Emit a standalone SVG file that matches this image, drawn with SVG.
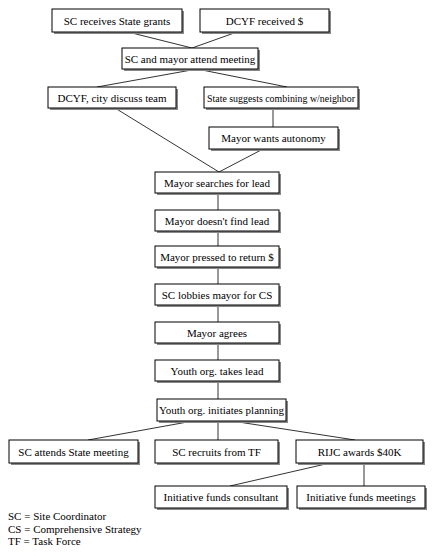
<svg xmlns="http://www.w3.org/2000/svg" width="434" height="556" viewBox="0 0 434 556">
<style>
.nd rect{fill:#fff;stroke:#000;stroke-width:1}
.nd rect.sh{fill:#888;stroke:none}
text{font-family:"Liberation Serif","Times New Roman",serif;font-size:11px;fill:#000}
.c{text-anchor:middle}
#connectors line{stroke:#333;stroke-width:1}
</style>
<rect width="434" height="556" fill="#fff"/>
<g id="connectors">
<line x1="128" y1="32" x2="192" y2="48"/>
<line x1="237" y1="32" x2="192" y2="48"/>
<line x1="197" y1="69" x2="97" y2="87"/>
<line x1="197" y1="69" x2="287" y2="87"/>
<line x1="273" y1="108" x2="273" y2="127"/>
<line x1="115" y1="108" x2="219" y2="172"/>
<line x1="263" y1="149" x2="219" y2="172"/>
<line x1="218" y1="193" x2="218" y2="210"/>
<line x1="218" y1="231" x2="218" y2="246"/>
<line x1="218" y1="267" x2="218" y2="284"/>
<line x1="218" y1="305" x2="218" y2="322"/>
<line x1="218" y1="343" x2="218" y2="360"/>
<line x1="218" y1="381" x2="218" y2="399"/>
<line x1="193" y1="421" x2="88" y2="440"/>
<line x1="218" y1="421" x2="218" y2="440"/>
<line x1="232" y1="421" x2="355" y2="440"/>
<line x1="330" y1="463" x2="230" y2="486"/>
<line x1="364" y1="463" x2="364" y2="486"/>
</g>
<g id="n1" class="nd"><rect class="sh" x="54" y="11" width="130" height="23"/><rect x="52" y="9" width="130" height="23"/><text class="c" x="117" y="24.5">SC receives State grants</text></g>
<g id="n2" class="nd"><rect class="sh" x="202" y="11" width="129" height="23"/><rect x="200" y="9" width="129" height="23"/><text class="c" x="264.5" y="24.5">DCYF received $</text></g>
<g id="n3" class="nd"><rect class="sh" x="124" y="50" width="136" height="21"/><rect x="122" y="48" width="136" height="21"/><text class="c" x="190" y="62.5">SC and mayor attend meeting</text></g>
<g id="n4" class="nd"><rect class="sh" x="50" y="89" width="128" height="21"/><rect x="48" y="87" width="128" height="21"/><text class="c" x="112" y="101.5">DCYF, city discuss team</text></g>
<g id="n5" class="nd"><rect class="sh" x="206" y="89" width="154" height="21"/><rect x="204" y="87" width="154" height="21"/><text class="c" x="281" y="101.5" textLength="148" lengthAdjust="spacingAndGlyphs">State suggests combining w/neighbor</text></g>
<g id="n6" class="nd"><rect class="sh" x="211" y="129" width="129" height="22"/><rect x="209" y="127" width="129" height="22"/><text class="c" x="273.5" y="142">Mayor wants autonomy</text></g>
<g id="n7" class="nd"><rect class="sh" x="157" y="174" width="124" height="21"/><rect x="155" y="172" width="124" height="21"/><text class="c" x="217" y="186.5">Mayor searches for lead</text></g>
<g id="n8" class="nd"><rect class="sh" x="157" y="212" width="124" height="21"/><rect x="155" y="210" width="124" height="21"/><text class="c" x="217" y="224.5">Mayor doesn't find lead</text></g>
<g id="n9" class="nd"><rect class="sh" x="157" y="248" width="124" height="21"/><rect x="155" y="246" width="124" height="21"/><text class="c" x="217" y="260.5">Mayor pressed to return $</text></g>
<g id="n10" class="nd"><rect class="sh" x="157" y="286" width="124" height="21"/><rect x="155" y="284" width="124" height="21"/><text class="c" x="217" y="298.5">SC lobbies mayor for CS</text></g>
<g id="n11" class="nd"><rect class="sh" x="157" y="324" width="124" height="21"/><rect x="155" y="322" width="124" height="21"/><text class="c" x="217" y="336.5">Mayor agrees</text></g>
<g id="n12" class="nd"><rect class="sh" x="157" y="362" width="124" height="21"/><rect x="155" y="360" width="124" height="21"/><text class="c" x="217" y="374.5">Youth org. takes lead</text></g>
<g id="n13" class="nd"><rect class="sh" x="159" y="401" width="129" height="22"/><rect x="157" y="399" width="129" height="22"/><text class="c" x="221.5" y="414">Youth org. initiates planning</text></g>
<g id="n14" class="nd"><rect class="sh" x="11" y="442" width="129" height="23"/><rect x="9" y="440" width="129" height="23"/><text class="c" x="73.5" y="455.5">SC attends State meeting</text></g>
<g id="n15" class="nd"><rect class="sh" x="157" y="442" width="123" height="23"/><rect x="155" y="440" width="123" height="23"/><text class="c" x="216.5" y="455.5">SC recruits from TF</text></g>
<g id="n16" class="nd"><rect class="sh" x="298" y="442" width="127" height="23"/><rect x="296" y="440" width="127" height="23"/><text class="c" x="359.5" y="455.5">RIJC awards $40K</text></g>
<g id="n17" class="nd"><rect class="sh" x="157" y="488" width="132" height="22"/><rect x="155" y="486" width="132" height="22"/><text class="c" x="221" y="501">Initiative funds consultant</text></g>
<g id="n18" class="nd"><rect class="sh" x="299" y="488" width="128" height="22"/><rect x="297" y="486" width="128" height="22"/><text class="c" x="361" y="501">Initiative funds meetings</text></g>
<g id="legend">
<text x="8" y="520">SC = Site Coordinator</text>
<text x="8" y="532.5">CS = Comprehensive Strategy</text>
<text x="8" y="545">TF = Task Force</text>
</g>
</svg>
